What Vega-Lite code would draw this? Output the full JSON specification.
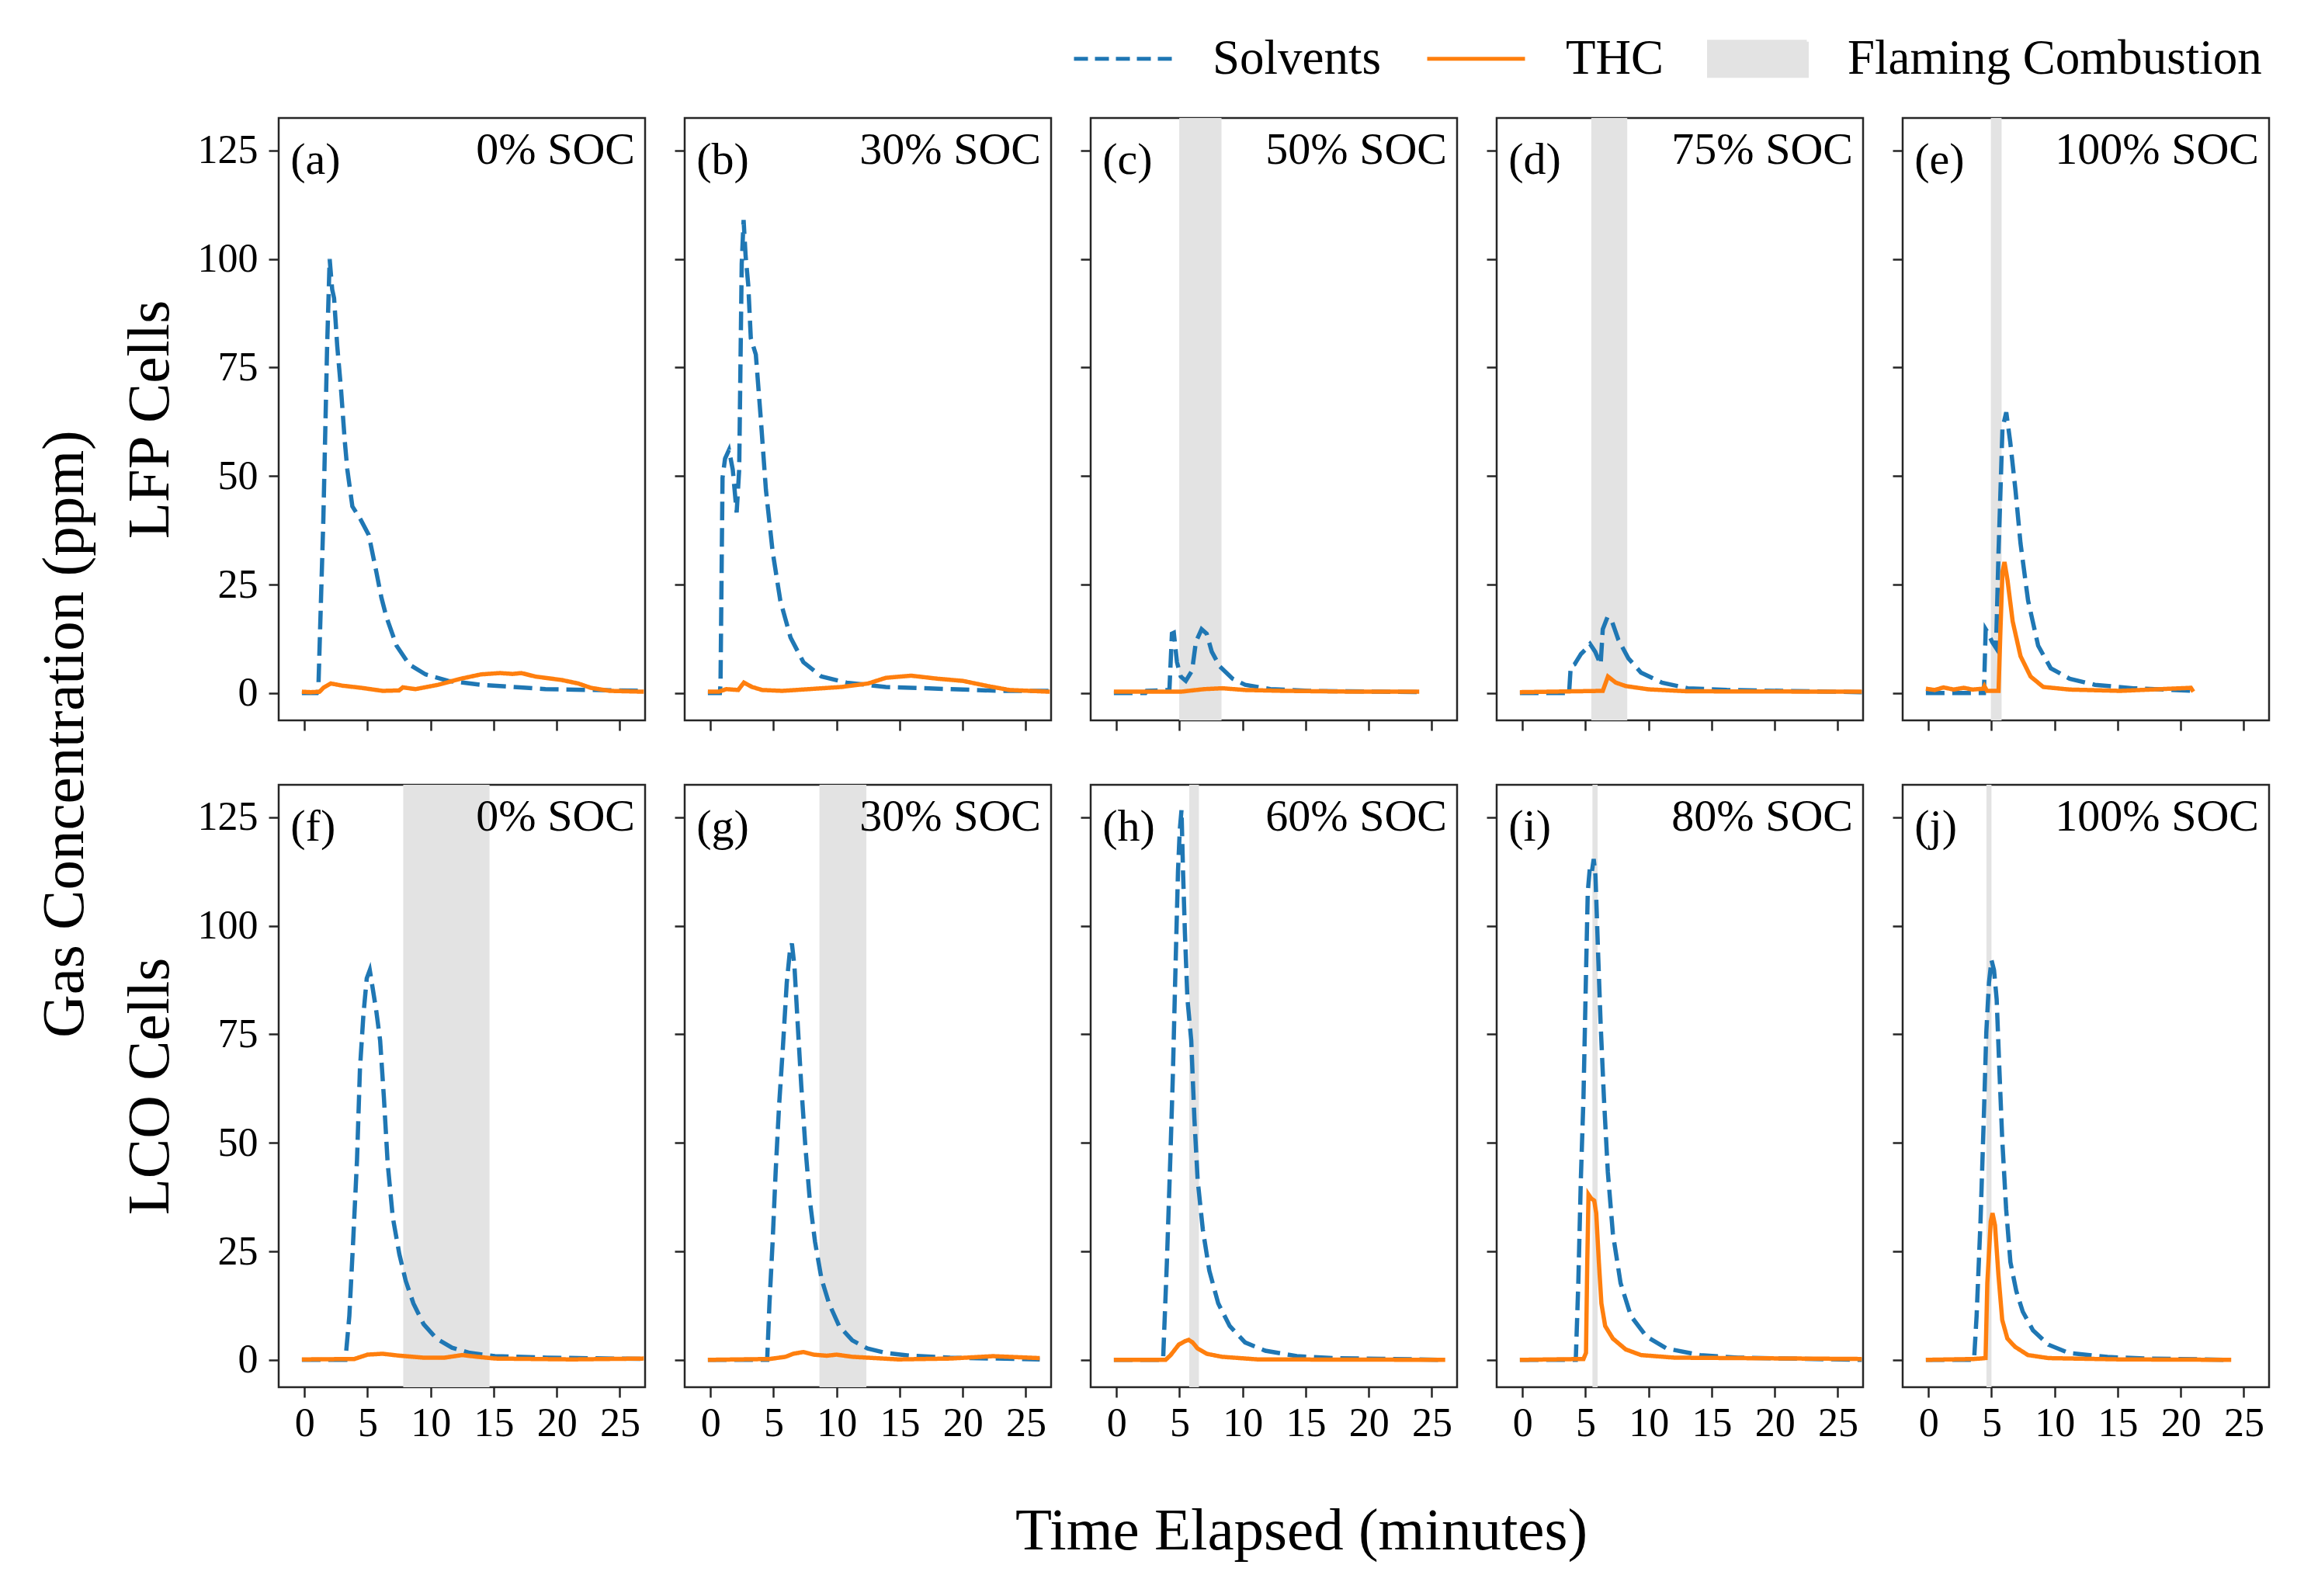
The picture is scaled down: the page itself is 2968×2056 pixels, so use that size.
{
"$schema": "https://vega.github.io/schema/vega-lite/v6.json",
"background": "white",
"padding": {"left": 44, "top": 10, "right": 20, "bottom": 20},
"title": {"text": "Gas Concentration (ppm)", "orient": "left", "anchor": "middle", "font": "Liberation Serif", "fontSize": 77, "fontWeight": "normal", "color": "black", "offset": 30, "dx": 65},
"datasets": {
"bands": [
{"p":"c","s":"Flaming Combustion","x1":4.98,"x2":8.33},
{"p":"d","s":"Flaming Combustion","x1":5.46,"x2":8.31},
{"p":"e","s":"Flaming Combustion","x1":4.95,"x2":5.8},
{"p":"f","s":"Flaming Combustion","x1":7.83,"x2":14.67},
{"p":"g","s":"Flaming Combustion","x1":8.64,"x2":12.36},
{"p":"h","s":"Flaming Combustion","x1":5.77,"x2":6.54},
{"p":"i","s":"Flaming Combustion","x1":5.55,"x2":5.96},
{"p":"j","s":"Flaming Combustion","x1":4.6,"x2":5.0}
],
"labels": [
{"p":"a","letter":"(a)","soc":"0% SOC"},
{"p":"b","letter":"(b)","soc":"30% SOC"},
{"p":"c","letter":"(c)","soc":"50% SOC"},
{"p":"d","letter":"(d)","soc":"75% SOC"},
{"p":"e","letter":"(e)","soc":"100% SOC"},
{"p":"f","letter":"(f)","soc":"0% SOC"},
{"p":"g","letter":"(g)","soc":"30% SOC"},
{"p":"h","letter":"(h)","soc":"60% SOC"},
{"p":"i","letter":"(i)","soc":"80% SOC"},
{"p":"j","letter":"(j)","soc":"100% SOC"}
],
"curves": [
{"p":"a","s":"Solvents","t":-0.2,"v":0},{"p":"a","s":"Solvents","t":1.0,"v":0},{"p":"a","s":"Solvents","t":1.1,"v":0.5},{"p":"a","s":"Solvents","t":1.5,"v":40},{"p":"a","s":"Solvents","t":1.8,"v":80},{"p":"a","s":"Solvents","t":2.0,"v":100},{"p":"a","s":"Solvents","t":2.2,"v":93},{"p":"a","s":"Solvents","t":2.35,"v":91},{"p":"a","s":"Solvents","t":2.6,"v":80},{"p":"a","s":"Solvents","t":2.9,"v":70},{"p":"a","s":"Solvents","t":3.2,"v":58},{"p":"a","s":"Solvents","t":3.4,"v":51.5},{"p":"a","s":"Solvents","t":3.8,"v":43},{"p":"a","s":"Solvents","t":4.45,"v":40},{"p":"a","s":"Solvents","t":5.1,"v":36.4},{"p":"a","s":"Solvents","t":5.7,"v":27.9},{"p":"a","s":"Solvents","t":6.1,"v":22},{"p":"a","s":"Solvents","t":6.5,"v":17.5},{"p":"a","s":"Solvents","t":7.3,"v":10.9},{"p":"a","s":"Solvents","t":8.3,"v":6.6},{"p":"a","s":"Solvents","t":9.6,"v":4.3},{"p":"a","s":"Solvents","t":11.4,"v":2.8},{"p":"a","s":"Solvents","t":14,"v":1.9},{"p":"a","s":"Solvents","t":19.1,"v":0.9},{"p":"a","s":"Solvents","t":26.9,"v":0.5},
{"p":"a","s":"THC","t":-0.2,"v":0.3},{"p":"a","s":"THC","t":0.5,"v":0.2},{"p":"a","s":"THC","t":1.2,"v":0.3},{"p":"a","s":"THC","t":1.5,"v":1.2},{"p":"a","s":"THC","t":2.1,"v":2.2},{"p":"a","s":"THC","t":3,"v":1.7},{"p":"a","s":"THC","t":4.5,"v":1.2},{"p":"a","s":"THC","t":6.2,"v":0.5},{"p":"a","s":"THC","t":7.5,"v":0.6},{"p":"a","s":"THC","t":7.8,"v":1.3},{"p":"a","s":"THC","t":8.8,"v":0.9},{"p":"a","s":"THC","t":10.6,"v":1.9},{"p":"a","s":"THC","t":12.4,"v":3.3},{"p":"a","s":"THC","t":14,"v":4.3},{"p":"a","s":"THC","t":15.5,"v":4.6},{"p":"a","s":"THC","t":16.5,"v":4.4},{"p":"a","s":"THC","t":17.2,"v":4.6},{"p":"a","s":"THC","t":18.3,"v":3.8},{"p":"a","s":"THC","t":20.4,"v":3.0},{"p":"a","s":"THC","t":21.7,"v":2.2},{"p":"a","s":"THC","t":22.7,"v":1.2},{"p":"a","s":"THC","t":24.2,"v":0.5},{"p":"a","s":"THC","t":26.9,"v":0.3},
{"p":"b","s":"Solvents","t":-0.2,"v":0},{"p":"b","s":"Solvents","t":0.75,"v":0},{"p":"b","s":"Solvents","t":0.8,"v":2},{"p":"b","s":"Solvents","t":0.96,"v":49.6},{"p":"b","s":"Solvents","t":1.16,"v":54},{"p":"b","s":"Solvents","t":1.47,"v":56},{"p":"b","s":"Solvents","t":1.77,"v":51.5},{"p":"b","s":"Solvents","t":2.08,"v":41.6},{"p":"b","s":"Solvents","t":2.28,"v":51.5},{"p":"b","s":"Solvents","t":2.48,"v":98.8},{"p":"b","s":"Solvents","t":2.63,"v":109},{"p":"b","s":"Solvents","t":2.79,"v":100.7},{"p":"b","s":"Solvents","t":3.0,"v":94},{"p":"b","s":"Solvents","t":3.2,"v":81.8},{"p":"b","s":"Solvents","t":3.6,"v":78},{"p":"b","s":"Solvents","t":4.0,"v":62.9},{"p":"b","s":"Solvents","t":4.4,"v":46.8},{"p":"b","s":"Solvents","t":4.93,"v":32.6},{"p":"b","s":"Solvents","t":5.54,"v":21.3},{"p":"b","s":"Solvents","t":6.35,"v":12.8},{"p":"b","s":"Solvents","t":7.37,"v":7.1},{"p":"b","s":"Solvents","t":8.8,"v":3.8},{"p":"b","s":"Solvents","t":10.8,"v":2.4},{"p":"b","s":"Solvents","t":13.9,"v":1.4},{"p":"b","s":"Solvents","t":19,"v":0.9},{"p":"b","s":"Solvents","t":23,"v":0.5},{"p":"b","s":"Solvents","t":26.9,"v":0.5},
{"p":"b","s":"THC","t":-0.2,"v":0.3},{"p":"b","s":"THC","t":0.65,"v":0.3},{"p":"b","s":"THC","t":1.26,"v":0.9},{"p":"b","s":"THC","t":2.2,"v":0.7},{"p":"b","s":"THC","t":2.65,"v":2.4},{"p":"b","s":"THC","t":3.3,"v":1.4},{"p":"b","s":"THC","t":4.1,"v":0.7},{"p":"b","s":"THC","t":5.7,"v":0.5},{"p":"b","s":"THC","t":7.8,"v":0.9},{"p":"b","s":"THC","t":10.4,"v":1.4},{"p":"b","s":"THC","t":12.5,"v":2.2},{"p":"b","s":"THC","t":13.9,"v":3.5},{"p":"b","s":"THC","t":15.9,"v":4.0},{"p":"b","s":"THC","t":18,"v":3.3},{"p":"b","s":"THC","t":20,"v":2.8},{"p":"b","s":"THC","t":22,"v":1.6},{"p":"b","s":"THC","t":23.7,"v":0.7},{"p":"b","s":"THC","t":26.9,"v":0.3},
{"p":"c","s":"Solvents","t":-0.2,"v":0},{"p":"c","s":"Solvents","t":2.3,"v":0},{"p":"c","s":"Solvents","t":2.4,"v":0.5},{"p":"c","s":"Solvents","t":4.2,"v":0.7},{"p":"c","s":"Solvents","t":4.4,"v":13.7},{"p":"c","s":"Solvents","t":4.55,"v":13.9},{"p":"c","s":"Solvents","t":4.8,"v":7.1},{"p":"c","s":"Solvents","t":5.1,"v":3.8},{"p":"c","s":"Solvents","t":5.5,"v":2.8},{"p":"c","s":"Solvents","t":6.0,"v":5.2},{"p":"c","s":"Solvents","t":6.3,"v":11.8},{"p":"c","s":"Solvents","t":6.75,"v":14.7},{"p":"c","s":"Solvents","t":7.15,"v":13.7},{"p":"c","s":"Solvents","t":7.56,"v":9.5},{"p":"c","s":"Solvents","t":8.2,"v":6.1},{"p":"c","s":"Solvents","t":9.2,"v":3.3},{"p":"c","s":"Solvents","t":10.2,"v":1.9},{"p":"c","s":"Solvents","t":12.2,"v":0.9},{"p":"c","s":"Solvents","t":15.3,"v":0.5},{"p":"c","s":"Solvents","t":24,"v":0.2},
{"p":"c","s":"THC","t":-0.2,"v":0.3},{"p":"c","s":"THC","t":5.1,"v":0.3},{"p":"c","s":"THC","t":6.0,"v":0.6},{"p":"c","s":"THC","t":6.95,"v":0.9},{"p":"c","s":"THC","t":8.4,"v":1.1},{"p":"c","s":"THC","t":10.2,"v":0.7},{"p":"c","s":"THC","t":13.3,"v":0.5},{"p":"c","s":"THC","t":19.3,"v":0.3},{"p":"c","s":"THC","t":24,"v":0.3},
{"p":"d","s":"Solvents","t":-0.2,"v":0},{"p":"d","s":"Solvents","t":3.7,"v":0},{"p":"d","s":"Solvents","t":3.83,"v":6.1},{"p":"d","s":"Solvents","t":4.13,"v":6.6},{"p":"d","s":"Solvents","t":4.64,"v":9},{"p":"d","s":"Solvents","t":4.95,"v":9.9},{"p":"d","s":"Solvents","t":5.36,"v":11.3},{"p":"d","s":"Solvents","t":5.77,"v":9.5},{"p":"d","s":"Solvents","t":6.2,"v":6.6},{"p":"d","s":"Solvents","t":6.37,"v":14.7},{"p":"d","s":"Solvents","t":6.74,"v":17.5},{"p":"d","s":"Solvents","t":7.1,"v":16.5},{"p":"d","s":"Solvents","t":7.6,"v":12.3},{"p":"d","s":"Solvents","t":8.4,"v":8},{"p":"d","s":"Solvents","t":9.4,"v":4.7},{"p":"d","s":"Solvents","t":11.06,"v":2.4},{"p":"d","s":"Solvents","t":13.1,"v":1.1},{"p":"d","s":"Solvents","t":16.2,"v":0.7},{"p":"d","s":"Solvents","t":26.9,"v":0.2},
{"p":"d","s":"THC","t":-0.2,"v":0.2},{"p":"d","s":"THC","t":6.37,"v":0.5},{"p":"d","s":"THC","t":6.78,"v":3.8},{"p":"d","s":"THC","t":7.4,"v":2.4},{"p":"d","s":"THC","t":8.2,"v":1.6},{"p":"d","s":"THC","t":10,"v":0.85},{"p":"d","s":"THC","t":13.1,"v":0.4},{"p":"d","s":"THC","t":26.9,"v":0.3},
{"p":"e","s":"Solvents","t":-0.2,"v":0},{"p":"e","s":"Solvents","t":4.4,"v":0},{"p":"e","s":"Solvents","t":4.54,"v":14.7},{"p":"e","s":"Solvents","t":4.75,"v":13.7},{"p":"e","s":"Solvents","t":5.05,"v":11.8},{"p":"e","s":"Solvents","t":5.36,"v":10.4},{"p":"e","s":"Solvents","t":5.56,"v":32.6},{"p":"e","s":"Solvents","t":5.87,"v":61},{"p":"e","s":"Solvents","t":6.17,"v":64.7},{"p":"e","s":"Solvents","t":6.48,"v":58},{"p":"e","s":"Solvents","t":6.9,"v":46.8},{"p":"e","s":"Solvents","t":7.3,"v":34.5},{"p":"e","s":"Solvents","t":7.9,"v":21.3},{"p":"e","s":"Solvents","t":8.7,"v":10.9},{"p":"e","s":"Solvents","t":9.7,"v":5.7},{"p":"e","s":"Solvents","t":11.2,"v":3.3},{"p":"e","s":"Solvents","t":13.2,"v":1.9},{"p":"e","s":"Solvents","t":16.25,"v":1.1},{"p":"e","s":"Solvents","t":21.0,"v":0.5},
{"p":"e","s":"THC","t":-0.2,"v":1.0},{"p":"e","s":"THC","t":0.5,"v":0.7},{"p":"e","s":"THC","t":1.2,"v":1.3},{"p":"e","s":"THC","t":2.0,"v":0.8},{"p":"e","s":"THC","t":2.8,"v":1.2},{"p":"e","s":"THC","t":3.5,"v":0.8},{"p":"e","s":"THC","t":4.34,"v":1.0},{"p":"e","s":"THC","t":4.44,"v":1.6},{"p":"e","s":"THC","t":4.64,"v":0.5},{"p":"e","s":"THC","t":5.56,"v":0.5},{"p":"e","s":"THC","t":5.7,"v":13.7},{"p":"e","s":"THC","t":5.87,"v":27.9},{"p":"e","s":"THC","t":6.03,"v":30.2},{"p":"e","s":"THC","t":6.27,"v":26},{"p":"e","s":"THC","t":6.68,"v":16.5},{"p":"e","s":"THC","t":7.3,"v":8.5},{"p":"e","s":"THC","t":8.1,"v":3.8},{"p":"e","s":"THC","t":9.1,"v":1.4},{"p":"e","s":"THC","t":11.2,"v":0.8},{"p":"e","s":"THC","t":15.2,"v":0.5},{"p":"e","s":"THC","t":20.8,"v":1.2},{"p":"e","s":"THC","t":21.0,"v":0.3},
{"p":"f","s":"Solvents","t":-0.2,"v":0},{"p":"f","s":"Solvents","t":3.25,"v":0},{"p":"f","s":"Solvents","t":3.56,"v":10.1},{"p":"f","s":"Solvents","t":3.86,"v":27.2},{"p":"f","s":"Solvents","t":4.17,"v":46.2},{"p":"f","s":"Solvents","t":4.4,"v":67},{"p":"f","s":"Solvents","t":4.67,"v":79.3},{"p":"f","s":"Solvents","t":4.94,"v":87.9},{"p":"f","s":"Solvents","t":5.18,"v":89.8},{"p":"f","s":"Solvents","t":5.39,"v":86},{"p":"f","s":"Solvents","t":5.7,"v":80.3},{"p":"f","s":"Solvents","t":6.0,"v":73.6},{"p":"f","s":"Solvents","t":6.3,"v":60.4},{"p":"f","s":"Solvents","t":6.6,"v":45.2},{"p":"f","s":"Solvents","t":7.0,"v":32.9},{"p":"f","s":"Solvents","t":7.52,"v":24.4},{"p":"f","s":"Solvents","t":8.03,"v":18.2},{"p":"f","s":"Solvents","t":8.64,"v":13},{"p":"f","s":"Solvents","t":9.45,"v":8.2},{"p":"f","s":"Solvents","t":10.47,"v":4.9},{"p":"f","s":"Solvents","t":11.7,"v":2.8},{"p":"f","s":"Solvents","t":13.1,"v":1.6},{"p":"f","s":"Solvents","t":15.1,"v":0.85},{"p":"f","s":"Solvents","t":19.2,"v":0.5},{"p":"f","s":"Solvents","t":26.9,"v":0.2},
{"p":"f","s":"THC","t":-0.2,"v":0.1},{"p":"f","s":"THC","t":3.96,"v":0.2},{"p":"f","s":"THC","t":5.0,"v":1.2},{"p":"f","s":"THC","t":6.2,"v":1.4},{"p":"f","s":"THC","t":7.4,"v":1.0},{"p":"f","s":"THC","t":9.45,"v":0.5},{"p":"f","s":"THC","t":11.1,"v":0.5},{"p":"f","s":"THC","t":12.5,"v":1.1},{"p":"f","s":"THC","t":13.7,"v":0.7},{"p":"f","s":"THC","t":15.1,"v":0.3},{"p":"f","s":"THC","t":21.2,"v":0.1},{"p":"f","s":"THC","t":26.9,"v":0.3},
{"p":"g","s":"Solvents","t":-0.2,"v":0},{"p":"g","s":"Solvents","t":4.5,"v":0},{"p":"g","s":"Solvents","t":4.52,"v":1.6},{"p":"g","s":"Solvents","t":4.68,"v":13},{"p":"g","s":"Solvents","t":4.93,"v":27.2},{"p":"g","s":"Solvents","t":5.17,"v":43.3},{"p":"g","s":"Solvents","t":5.44,"v":58.5},{"p":"g","s":"Solvents","t":5.74,"v":71.8},{"p":"g","s":"Solvents","t":6.05,"v":86.9},{"p":"g","s":"Solvents","t":6.31,"v":94.5},{"p":"g","s":"Solvents","t":6.46,"v":95.9},{"p":"g","s":"Solvents","t":6.66,"v":90.7},{"p":"g","s":"Solvents","t":6.92,"v":77.3},{"p":"g","s":"Solvents","t":7.2,"v":63.2},{"p":"g","s":"Solvents","t":7.53,"v":49},{"p":"g","s":"Solvents","t":7.88,"v":36.7},{"p":"g","s":"Solvents","t":8.29,"v":27.2},{"p":"g","s":"Solvents","t":8.8,"v":18.7},{"p":"g","s":"Solvents","t":9.4,"v":13},{"p":"g","s":"Solvents","t":10.2,"v":7.8},{"p":"g","s":"Solvents","t":11.24,"v":4.5},{"p":"g","s":"Solvents","t":12.46,"v":2.6},{"p":"g","s":"Solvents","t":13.9,"v":1.6},{"p":"g","s":"Solvents","t":15.9,"v":0.95},{"p":"g","s":"Solvents","t":19,"v":0.5},{"p":"g","s":"Solvents","t":26.1,"v":0.1},
{"p":"g","s":"THC","t":-0.2,"v":0},{"p":"g","s":"THC","t":4.7,"v":0.2},{"p":"g","s":"THC","t":5.95,"v":0.7},{"p":"g","s":"THC","t":6.56,"v":1.4},{"p":"g","s":"THC","t":7.37,"v":1.8},{"p":"g","s":"THC","t":8.2,"v":1.2},{"p":"g","s":"THC","t":9.2,"v":0.95},{"p":"g","s":"THC","t":10.0,"v":1.2},{"p":"g","s":"THC","t":11.24,"v":0.7},{"p":"g","s":"THC","t":14.9,"v":0.1},{"p":"g","s":"THC","t":19,"v":0.3},{"p":"g","s":"THC","t":22.4,"v":0.85},{"p":"g","s":"THC","t":26.1,"v":0.4},
{"p":"h","s":"Solvents","t":-0.2,"v":0},{"p":"h","s":"Solvents","t":3.7,"v":0},{"p":"h","s":"Solvents","t":4.0,"v":22.5},{"p":"h","s":"Solvents","t":4.27,"v":46.2},{"p":"h","s":"Solvents","t":4.47,"v":65.1},{"p":"h","s":"Solvents","t":4.67,"v":88.8},{"p":"h","s":"Solvents","t":4.88,"v":112.5},{"p":"h","s":"Solvents","t":5.02,"v":122},{"p":"h","s":"Solvents","t":5.16,"v":126.7},{"p":"h","s":"Solvents","t":5.28,"v":112.5},{"p":"h","s":"Solvents","t":5.43,"v":98.3},{"p":"h","s":"Solvents","t":5.63,"v":83.1},{"p":"h","s":"Solvents","t":5.93,"v":73.6},{"p":"h","s":"Solvents","t":6.18,"v":55.6},{"p":"h","s":"Solvents","t":6.44,"v":41.4},{"p":"h","s":"Solvents","t":6.85,"v":30},{"p":"h","s":"Solvents","t":7.36,"v":20.6},{"p":"h","s":"Solvents","t":8.07,"v":13},{"p":"h","s":"Solvents","t":8.98,"v":7.8},{"p":"h","s":"Solvents","t":10.2,"v":4},{"p":"h","s":"Solvents","t":11.8,"v":2.1},{"p":"h","s":"Solvents","t":14.3,"v":0.85},{"p":"h","s":"Solvents","t":17.3,"v":0.4},{"p":"h","s":"Solvents","t":26.06,"v":0},
{"p":"h","s":"THC","t":-0.2,"v":0},{"p":"h","s":"THC","t":3.9,"v":0},{"p":"h","s":"THC","t":4.3,"v":1.1},{"p":"h","s":"THC","t":4.94,"v":3.5},{"p":"h","s":"THC","t":5.43,"v":4.3},{"p":"h","s":"THC","t":5.73,"v":4.6},{"p":"h","s":"THC","t":6.04,"v":4.0},{"p":"h","s":"THC","t":6.44,"v":2.6},{"p":"h","s":"THC","t":7.15,"v":1.4},{"p":"h","s":"THC","t":8.37,"v":0.7},{"p":"h","s":"THC","t":11.2,"v":0.1},{"p":"h","s":"THC","t":26.06,"v":0},
{"p":"i","s":"Solvents","t":-0.2,"v":0},{"p":"i","s":"Solvents","t":4.23,"v":0},{"p":"i","s":"Solvents","t":4.43,"v":17.7},{"p":"i","s":"Solvents","t":4.63,"v":41.4},{"p":"i","s":"Solvents","t":4.84,"v":60.4},{"p":"i","s":"Solvents","t":5.04,"v":88.8},{"p":"i","s":"Solvents","t":5.18,"v":107.8},{"p":"i","s":"Solvents","t":5.35,"v":113.5},{"p":"i","s":"Solvents","t":5.51,"v":112.5},{"p":"i","s":"Solvents","t":5.65,"v":115.4},{"p":"i","s":"Solvents","t":5.79,"v":111.6},{"p":"i","s":"Solvents","t":6.0,"v":93.6},{"p":"i","s":"Solvents","t":6.2,"v":77.4},{"p":"i","s":"Solvents","t":6.46,"v":60.4},{"p":"i","s":"Solvents","t":6.77,"v":43.3},{"p":"i","s":"Solvents","t":7.17,"v":29.1},{"p":"i","s":"Solvents","t":7.78,"v":17.7},{"p":"i","s":"Solvents","t":8.6,"v":10.1},{"p":"i","s":"Solvents","t":9.82,"v":5.4},{"p":"i","s":"Solvents","t":11.44,"v":2.6},{"p":"i","s":"Solvents","t":14.1,"v":1.1},{"p":"i","s":"Solvents","t":17.1,"v":0.5},{"p":"i","s":"Solvents","t":26.9,"v":0},
{"p":"i","s":"THC","t":-0.2,"v":0},{"p":"i","s":"THC","t":4.84,"v":0.2},{"p":"i","s":"THC","t":5.04,"v":1.6},{"p":"i","s":"THC","t":5.14,"v":22.5},{"p":"i","s":"THC","t":5.24,"v":38.1},{"p":"i","s":"THC","t":5.45,"v":37.2},{"p":"i","s":"THC","t":5.69,"v":36.7},{"p":"i","s":"THC","t":5.85,"v":33.8},{"p":"i","s":"THC","t":6.06,"v":22.5},{"p":"i","s":"THC","t":6.26,"v":13},{"p":"i","s":"THC","t":6.56,"v":7.8},{"p":"i","s":"THC","t":7.17,"v":4.9},{"p":"i","s":"THC","t":8.19,"v":2.4},{"p":"i","s":"THC","t":9.4,"v":1.1},{"p":"i","s":"THC","t":12.05,"v":0.5},{"p":"i","s":"THC","t":26.9,"v":0.2},
{"p":"j","s":"Solvents","t":-0.2,"v":0},{"p":"j","s":"Solvents","t":3.62,"v":0},{"p":"j","s":"Solvents","t":3.82,"v":10.1},{"p":"j","s":"Solvents","t":4.13,"v":31.9},{"p":"j","s":"Solvents","t":4.39,"v":55.6},{"p":"j","s":"Solvents","t":4.59,"v":75.5},{"p":"j","s":"Solvents","t":4.8,"v":86.9},{"p":"j","s":"Solvents","t":5.0,"v":92.1},{"p":"j","s":"Solvents","t":5.2,"v":89.8},{"p":"j","s":"Solvents","t":5.41,"v":83.1},{"p":"j","s":"Solvents","t":5.61,"v":68},{"p":"j","s":"Solvents","t":5.85,"v":50.9},{"p":"j","s":"Solvents","t":6.16,"v":34.8},{"p":"j","s":"Solvents","t":6.5,"v":22.5},{"p":"j","s":"Solvents","t":6.97,"v":15.8},{"p":"j","s":"Solvents","t":7.48,"v":11.1},{"p":"j","s":"Solvents","t":8.29,"v":6.8},{"p":"j","s":"Solvents","t":9.51,"v":3.5},{"p":"j","s":"Solvents","t":11.1,"v":1.6},{"p":"j","s":"Solvents","t":14.2,"v":0.66},{"p":"j","s":"Solvents","t":17.2,"v":0.3},{"p":"j","s":"Solvents","t":24.0,"v":0},
{"p":"j","s":"THC","t":-0.2,"v":0},{"p":"j","s":"THC","t":3.62,"v":0.2},{"p":"j","s":"THC","t":4.53,"v":0.4},{"p":"j","s":"THC","t":4.67,"v":17.7},{"p":"j","s":"THC","t":4.94,"v":31.9},{"p":"j","s":"THC","t":5.08,"v":33.8},{"p":"j","s":"THC","t":5.28,"v":31},{"p":"j","s":"THC","t":5.55,"v":19.6},{"p":"j","s":"THC","t":5.85,"v":9.2},{"p":"j","s":"THC","t":6.26,"v":4.9},{"p":"j","s":"THC","t":6.87,"v":3},{"p":"j","s":"THC","t":7.89,"v":1.1},{"p":"j","s":"THC","t":9.51,"v":0.4},{"p":"j","s":"THC","t":15.2,"v":0.1},{"p":"j","s":"THC","t":24.0,"v":0}
]
},
"spacing": 65,
"vconcat": [
{"bounds": "flush", "spacing": 51, "hconcat": [
{"width": 472, "height": 776, "layer": [
 {"data": {"name": "bands"}, "transform": [{"filter": "datum.p === 'a'"}], "mark": {"type": "rect"}, "encoding": {"x": {"field": "x1", "type": "quantitative", "scale": {"domain": [-2.04, 27.0], "nice": false, "zero": false}, "axis": {"values": [0,5,10,15,20,25], "labels": false, "title": null}}, "x2": {"field": "x2"}, "color": {"field": "s", "type": "nominal", "scale": {"domain": ["Solvents", "THC", "Flaming Combustion"], "range": ["#1f77b4", "#ff7f0e", "#e3e3e3"]}}}},
 {"data": {"name": "curves"}, "transform": [{"filter": "datum.p === 'a'"}], "mark": {"type": "line", "strokeWidth": 5.5}, "encoding": {
   "x": {"field": "t", "type": "quantitative", "scale": {"domain": [-2.04, 27.0], "nice": false, "zero": false}, "axis": {"values": [0,5,10,15,20,25], "labels": false, "title": null}},
   "y": {"field": "v", "type": "quantitative", "scale": {"domain": [-6.3, 132.5], "nice": false, "zero": false}, "axis": {"values": [0,25,50,75,100,125], "title": "LFP Cells"}},
   "color": {"field": "s", "type": "nominal", "scale": {"domain": ["Solvents", "THC", "Flaming Combustion"], "range": ["#1f77b4", "#ff7f0e", "#e3e3e3"]}, "legend": {"title": null, "encode": {"symbols": {"update": {
     "shape": {"signal": "datum.label === 'Flaming Combustion' ? 'M-1,-0.35L1,-0.35L1,0.35L-1,0.35Z' : 'stroke'"},
     "strokeDash": {"signal": "datum.label === 'Solvents' ? [18,9] : [1,0]"},
     "fill": {"signal": "datum.label === 'Flaming Combustion' ? '#e3e3e3' : 'transparent'"},
     "stroke": {"signal": "datum.label === 'Flaming Combustion' ? 'transparent' : (datum.label === 'Solvents' ? '#1f77b4' : '#ff7f0e')"},
     "strokeWidth": {"value": 5},
     "opacity": {"value": 1}}}}}},
   "strokeDash": {"field": "s", "type": "nominal", "scale": {"domain": ["Solvents", "THC"], "range": [[24, 10], [1, 0]]}, "legend": null}}},
 {"data": {"name": "labels"}, "transform": [{"filter": "datum.p === 'a'"}], "mark": {"type": "text", "align": "left", "baseline": "alphabetic", "font": "Liberation Serif", "fontSize": 58, "color": "black"}, "encoding": {"x": {"datum": -1.1, "type": "quantitative", "axis": {"values": [0,5,10,15,20,25], "labels": false, "title": null}}, "y": {"datum": 119.6, "type": "quantitative", "axis": {"values": [0,25,50,75,100,125], "title": "LFP Cells"}}, "text": {"field": "letter"}}},
 {"data": {"name": "labels"}, "transform": [{"filter": "datum.p === 'a'"}], "mark": {"type": "text", "align": "right", "baseline": "alphabetic", "font": "Liberation Serif", "fontSize": 58, "color": "black"}, "encoding": {"x": {"datum": 26.2, "type": "quantitative", "axis": {"values": [0,5,10,15,20,25], "labels": false, "title": null}}, "y": {"datum": 122, "type": "quantitative", "axis": {"values": [0,25,50,75,100,125], "title": "LFP Cells"}}, "text": {"field": "soc"}}}
]},
{"width": 472, "height": 776, "layer": [
 {"data": {"name": "bands"}, "transform": [{"filter": "datum.p === 'b'"}], "mark": {"type": "rect"}, "encoding": {"x": {"field": "x1", "type": "quantitative", "scale": {"domain": [-2.04, 27.0], "nice": false, "zero": false}, "axis": {"values": [0,5,10,15,20,25], "labels": false, "title": null}}, "x2": {"field": "x2"}, "color": {"field": "s", "type": "nominal", "scale": {"domain": ["Solvents", "THC", "Flaming Combustion"], "range": ["#1f77b4", "#ff7f0e", "#e3e3e3"]}}}},
 {"data": {"name": "curves"}, "transform": [{"filter": "datum.p === 'b'"}], "mark": {"type": "line", "strokeWidth": 5.5}, "encoding": {
   "x": {"field": "t", "type": "quantitative", "scale": {"domain": [-2.04, 27.0], "nice": false, "zero": false}, "axis": {"values": [0,5,10,15,20,25], "labels": false, "title": null}},
   "y": {"field": "v", "type": "quantitative", "scale": {"domain": [-6.3, 132.5], "nice": false, "zero": false}, "axis": {"values": [0,25,50,75,100,125], "labels": false, "title": null}},
   "color": {"field": "s", "type": "nominal", "scale": {"domain": ["Solvents", "THC", "Flaming Combustion"], "range": ["#1f77b4", "#ff7f0e", "#e3e3e3"]}},
   "strokeDash": {"field": "s", "type": "nominal", "scale": {"domain": ["Solvents", "THC"], "range": [[24, 10], [1, 0]]}, "legend": null}}},
 {"data": {"name": "labels"}, "transform": [{"filter": "datum.p === 'b'"}], "mark": {"type": "text", "align": "left", "baseline": "alphabetic", "font": "Liberation Serif", "fontSize": 58, "color": "black"}, "encoding": {"x": {"datum": -1.1, "type": "quantitative", "axis": {"values": [0,5,10,15,20,25], "labels": false, "title": null}}, "y": {"datum": 119.6, "type": "quantitative", "axis": {"values": [0,25,50,75,100,125], "labels": false, "title": null}}, "text": {"field": "letter"}}},
 {"data": {"name": "labels"}, "transform": [{"filter": "datum.p === 'b'"}], "mark": {"type": "text", "align": "right", "baseline": "alphabetic", "font": "Liberation Serif", "fontSize": 58, "color": "black"}, "encoding": {"x": {"datum": 26.2, "type": "quantitative", "axis": {"values": [0,5,10,15,20,25], "labels": false, "title": null}}, "y": {"datum": 122, "type": "quantitative", "axis": {"values": [0,25,50,75,100,125], "labels": false, "title": null}}, "text": {"field": "soc"}}}
]},
{"width": 472, "height": 776, "layer": [
 {"data": {"name": "bands"}, "transform": [{"filter": "datum.p === 'c'"}], "mark": {"type": "rect"}, "encoding": {"x": {"field": "x1", "type": "quantitative", "scale": {"domain": [-2.04, 27.0], "nice": false, "zero": false}, "axis": {"values": [0,5,10,15,20,25], "labels": false, "title": null}}, "x2": {"field": "x2"}, "color": {"field": "s", "type": "nominal", "scale": {"domain": ["Solvents", "THC", "Flaming Combustion"], "range": ["#1f77b4", "#ff7f0e", "#e3e3e3"]}}}},
 {"data": {"name": "curves"}, "transform": [{"filter": "datum.p === 'c'"}], "mark": {"type": "line", "strokeWidth": 5.5}, "encoding": {
   "x": {"field": "t", "type": "quantitative", "scale": {"domain": [-2.04, 27.0], "nice": false, "zero": false}, "axis": {"values": [0,5,10,15,20,25], "labels": false, "title": null}},
   "y": {"field": "v", "type": "quantitative", "scale": {"domain": [-6.3, 132.5], "nice": false, "zero": false}, "axis": {"values": [0,25,50,75,100,125], "labels": false, "title": null}},
   "color": {"field": "s", "type": "nominal", "scale": {"domain": ["Solvents", "THC", "Flaming Combustion"], "range": ["#1f77b4", "#ff7f0e", "#e3e3e3"]}},
   "strokeDash": {"field": "s", "type": "nominal", "scale": {"domain": ["Solvents", "THC"], "range": [[24, 10], [1, 0]]}, "legend": null}}},
 {"data": {"name": "labels"}, "transform": [{"filter": "datum.p === 'c'"}], "mark": {"type": "text", "align": "left", "baseline": "alphabetic", "font": "Liberation Serif", "fontSize": 58, "color": "black"}, "encoding": {"x": {"datum": -1.1, "type": "quantitative", "axis": {"values": [0,5,10,15,20,25], "labels": false, "title": null}}, "y": {"datum": 119.6, "type": "quantitative", "axis": {"values": [0,25,50,75,100,125], "labels": false, "title": null}}, "text": {"field": "letter"}}},
 {"data": {"name": "labels"}, "transform": [{"filter": "datum.p === 'c'"}], "mark": {"type": "text", "align": "right", "baseline": "alphabetic", "font": "Liberation Serif", "fontSize": 58, "color": "black"}, "encoding": {"x": {"datum": 26.2, "type": "quantitative", "axis": {"values": [0,5,10,15,20,25], "labels": false, "title": null}}, "y": {"datum": 122, "type": "quantitative", "axis": {"values": [0,25,50,75,100,125], "labels": false, "title": null}}, "text": {"field": "soc"}}}
]},
{"width": 472, "height": 776, "layer": [
 {"data": {"name": "bands"}, "transform": [{"filter": "datum.p === 'd'"}], "mark": {"type": "rect"}, "encoding": {"x": {"field": "x1", "type": "quantitative", "scale": {"domain": [-2.04, 27.0], "nice": false, "zero": false}, "axis": {"values": [0,5,10,15,20,25], "labels": false, "title": null}}, "x2": {"field": "x2"}, "color": {"field": "s", "type": "nominal", "scale": {"domain": ["Solvents", "THC", "Flaming Combustion"], "range": ["#1f77b4", "#ff7f0e", "#e3e3e3"]}}}},
 {"data": {"name": "curves"}, "transform": [{"filter": "datum.p === 'd'"}], "mark": {"type": "line", "strokeWidth": 5.5}, "encoding": {
   "x": {"field": "t", "type": "quantitative", "scale": {"domain": [-2.04, 27.0], "nice": false, "zero": false}, "axis": {"values": [0,5,10,15,20,25], "labels": false, "title": null}},
   "y": {"field": "v", "type": "quantitative", "scale": {"domain": [-6.3, 132.5], "nice": false, "zero": false}, "axis": {"values": [0,25,50,75,100,125], "labels": false, "title": null}},
   "color": {"field": "s", "type": "nominal", "scale": {"domain": ["Solvents", "THC", "Flaming Combustion"], "range": ["#1f77b4", "#ff7f0e", "#e3e3e3"]}},
   "strokeDash": {"field": "s", "type": "nominal", "scale": {"domain": ["Solvents", "THC"], "range": [[24, 10], [1, 0]]}, "legend": null}}},
 {"data": {"name": "labels"}, "transform": [{"filter": "datum.p === 'd'"}], "mark": {"type": "text", "align": "left", "baseline": "alphabetic", "font": "Liberation Serif", "fontSize": 58, "color": "black"}, "encoding": {"x": {"datum": -1.1, "type": "quantitative", "axis": {"values": [0,5,10,15,20,25], "labels": false, "title": null}}, "y": {"datum": 119.6, "type": "quantitative", "axis": {"values": [0,25,50,75,100,125], "labels": false, "title": null}}, "text": {"field": "letter"}}},
 {"data": {"name": "labels"}, "transform": [{"filter": "datum.p === 'd'"}], "mark": {"type": "text", "align": "right", "baseline": "alphabetic", "font": "Liberation Serif", "fontSize": 58, "color": "black"}, "encoding": {"x": {"datum": 26.2, "type": "quantitative", "axis": {"values": [0,5,10,15,20,25], "labels": false, "title": null}}, "y": {"datum": 122, "type": "quantitative", "axis": {"values": [0,25,50,75,100,125], "labels": false, "title": null}}, "text": {"field": "soc"}}}
]},
{"width": 472, "height": 776, "layer": [
 {"data": {"name": "bands"}, "transform": [{"filter": "datum.p === 'e'"}], "mark": {"type": "rect"}, "encoding": {"x": {"field": "x1", "type": "quantitative", "scale": {"domain": [-2.04, 27.0], "nice": false, "zero": false}, "axis": {"values": [0,5,10,15,20,25], "labels": false, "title": null}}, "x2": {"field": "x2"}, "color": {"field": "s", "type": "nominal", "scale": {"domain": ["Solvents", "THC", "Flaming Combustion"], "range": ["#1f77b4", "#ff7f0e", "#e3e3e3"]}}}},
 {"data": {"name": "curves"}, "transform": [{"filter": "datum.p === 'e'"}], "mark": {"type": "line", "strokeWidth": 5.5}, "encoding": {
   "x": {"field": "t", "type": "quantitative", "scale": {"domain": [-2.04, 27.0], "nice": false, "zero": false}, "axis": {"values": [0,5,10,15,20,25], "labels": false, "title": null}},
   "y": {"field": "v", "type": "quantitative", "scale": {"domain": [-6.3, 132.5], "nice": false, "zero": false}, "axis": {"values": [0,25,50,75,100,125], "labels": false, "title": null}},
   "color": {"field": "s", "type": "nominal", "scale": {"domain": ["Solvents", "THC", "Flaming Combustion"], "range": ["#1f77b4", "#ff7f0e", "#e3e3e3"]}},
   "strokeDash": {"field": "s", "type": "nominal", "scale": {"domain": ["Solvents", "THC"], "range": [[24, 10], [1, 0]]}, "legend": null}}},
 {"data": {"name": "labels"}, "transform": [{"filter": "datum.p === 'e'"}], "mark": {"type": "text", "align": "left", "baseline": "alphabetic", "font": "Liberation Serif", "fontSize": 58, "color": "black"}, "encoding": {"x": {"datum": -1.1, "type": "quantitative", "axis": {"values": [0,5,10,15,20,25], "labels": false, "title": null}}, "y": {"datum": 119.6, "type": "quantitative", "axis": {"values": [0,25,50,75,100,125], "labels": false, "title": null}}, "text": {"field": "letter"}}},
 {"data": {"name": "labels"}, "transform": [{"filter": "datum.p === 'e'"}], "mark": {"type": "text", "align": "right", "baseline": "alphabetic", "font": "Liberation Serif", "fontSize": 58, "color": "black"}, "encoding": {"x": {"datum": 26.2, "type": "quantitative", "axis": {"values": [0,5,10,15,20,25], "labels": false, "title": null}}, "y": {"datum": 122, "type": "quantitative", "axis": {"values": [0,25,50,75,100,125], "labels": false, "title": null}}, "text": {"field": "soc"}}}
]}
]},
{"bounds": "flush", "spacing": 51, "hconcat": [
{"width": 472, "height": 776, "layer": [
 {"data": {"name": "bands"}, "transform": [{"filter": "datum.p === 'f'"}], "mark": {"type": "rect"}, "encoding": {"x": {"field": "x1", "type": "quantitative", "scale": {"domain": [-2.04, 27.0], "nice": false, "zero": false}, "axis": {"values": [0,5,10,15,20,25], "title": null}}, "x2": {"field": "x2"}, "color": {"field": "s", "type": "nominal", "scale": {"domain": ["Solvents", "THC", "Flaming Combustion"], "range": ["#1f77b4", "#ff7f0e", "#e3e3e3"]}}}},
 {"data": {"name": "curves"}, "transform": [{"filter": "datum.p === 'f'"}], "mark": {"type": "line", "strokeWidth": 5.5}, "encoding": {
   "x": {"field": "t", "type": "quantitative", "scale": {"domain": [-2.04, 27.0], "nice": false, "zero": false}, "axis": {"values": [0,5,10,15,20,25], "title": null}},
   "y": {"field": "v", "type": "quantitative", "scale": {"domain": [-6.3, 132.5], "nice": false, "zero": false}, "axis": {"values": [0,25,50,75,100,125], "title": "LCO Cells"}},
   "color": {"field": "s", "type": "nominal", "scale": {"domain": ["Solvents", "THC", "Flaming Combustion"], "range": ["#1f77b4", "#ff7f0e", "#e3e3e3"]}},
   "strokeDash": {"field": "s", "type": "nominal", "scale": {"domain": ["Solvents", "THC"], "range": [[24, 10], [1, 0]]}, "legend": null}}},
 {"data": {"name": "labels"}, "transform": [{"filter": "datum.p === 'f'"}], "mark": {"type": "text", "align": "left", "baseline": "alphabetic", "font": "Liberation Serif", "fontSize": 58, "color": "black"}, "encoding": {"x": {"datum": -1.1, "type": "quantitative", "axis": {"values": [0,5,10,15,20,25], "title": null}}, "y": {"datum": 119.6, "type": "quantitative", "axis": {"values": [0,25,50,75,100,125], "title": "LCO Cells"}}, "text": {"field": "letter"}}},
 {"data": {"name": "labels"}, "transform": [{"filter": "datum.p === 'f'"}], "mark": {"type": "text", "align": "right", "baseline": "alphabetic", "font": "Liberation Serif", "fontSize": 58, "color": "black"}, "encoding": {"x": {"datum": 26.2, "type": "quantitative", "axis": {"values": [0,5,10,15,20,25], "title": null}}, "y": {"datum": 122, "type": "quantitative", "axis": {"values": [0,25,50,75,100,125], "title": "LCO Cells"}}, "text": {"field": "soc"}}}
]},
{"width": 472, "height": 776, "layer": [
 {"data": {"name": "bands"}, "transform": [{"filter": "datum.p === 'g'"}], "mark": {"type": "rect"}, "encoding": {"x": {"field": "x1", "type": "quantitative", "scale": {"domain": [-2.04, 27.0], "nice": false, "zero": false}, "axis": {"values": [0,5,10,15,20,25], "title": null}}, "x2": {"field": "x2"}, "color": {"field": "s", "type": "nominal", "scale": {"domain": ["Solvents", "THC", "Flaming Combustion"], "range": ["#1f77b4", "#ff7f0e", "#e3e3e3"]}}}},
 {"data": {"name": "curves"}, "transform": [{"filter": "datum.p === 'g'"}], "mark": {"type": "line", "strokeWidth": 5.5}, "encoding": {
   "x": {"field": "t", "type": "quantitative", "scale": {"domain": [-2.04, 27.0], "nice": false, "zero": false}, "axis": {"values": [0,5,10,15,20,25], "title": null}},
   "y": {"field": "v", "type": "quantitative", "scale": {"domain": [-6.3, 132.5], "nice": false, "zero": false}, "axis": {"values": [0,25,50,75,100,125], "labels": false, "title": null}},
   "color": {"field": "s", "type": "nominal", "scale": {"domain": ["Solvents", "THC", "Flaming Combustion"], "range": ["#1f77b4", "#ff7f0e", "#e3e3e3"]}},
   "strokeDash": {"field": "s", "type": "nominal", "scale": {"domain": ["Solvents", "THC"], "range": [[24, 10], [1, 0]]}, "legend": null}}},
 {"data": {"name": "labels"}, "transform": [{"filter": "datum.p === 'g'"}], "mark": {"type": "text", "align": "left", "baseline": "alphabetic", "font": "Liberation Serif", "fontSize": 58, "color": "black"}, "encoding": {"x": {"datum": -1.1, "type": "quantitative", "axis": {"values": [0,5,10,15,20,25], "title": null}}, "y": {"datum": 119.6, "type": "quantitative", "axis": {"values": [0,25,50,75,100,125], "labels": false, "title": null}}, "text": {"field": "letter"}}},
 {"data": {"name": "labels"}, "transform": [{"filter": "datum.p === 'g'"}], "mark": {"type": "text", "align": "right", "baseline": "alphabetic", "font": "Liberation Serif", "fontSize": 58, "color": "black"}, "encoding": {"x": {"datum": 26.2, "type": "quantitative", "axis": {"values": [0,5,10,15,20,25], "title": null}}, "y": {"datum": 122, "type": "quantitative", "axis": {"values": [0,25,50,75,100,125], "labels": false, "title": null}}, "text": {"field": "soc"}}}
]},
{"width": 472, "height": 776, "layer": [
 {"data": {"name": "bands"}, "transform": [{"filter": "datum.p === 'h'"}], "mark": {"type": "rect"}, "encoding": {"x": {"field": "x1", "type": "quantitative", "scale": {"domain": [-2.04, 27.0], "nice": false, "zero": false}, "axis": {"values": [0,5,10,15,20,25], "title": "Time Elapsed (minutes)", "titlePadding": 75, "titleX": 271}}, "x2": {"field": "x2"}, "color": {"field": "s", "type": "nominal", "scale": {"domain": ["Solvents", "THC", "Flaming Combustion"], "range": ["#1f77b4", "#ff7f0e", "#e3e3e3"]}}}},
 {"data": {"name": "curves"}, "transform": [{"filter": "datum.p === 'h'"}], "mark": {"type": "line", "strokeWidth": 5.5}, "encoding": {
   "x": {"field": "t", "type": "quantitative", "scale": {"domain": [-2.04, 27.0], "nice": false, "zero": false}, "axis": {"values": [0,5,10,15,20,25], "title": "Time Elapsed (minutes)", "titlePadding": 75, "titleX": 271}},
   "y": {"field": "v", "type": "quantitative", "scale": {"domain": [-6.3, 132.5], "nice": false, "zero": false}, "axis": {"values": [0,25,50,75,100,125], "labels": false, "title": null}},
   "color": {"field": "s", "type": "nominal", "scale": {"domain": ["Solvents", "THC", "Flaming Combustion"], "range": ["#1f77b4", "#ff7f0e", "#e3e3e3"]}},
   "strokeDash": {"field": "s", "type": "nominal", "scale": {"domain": ["Solvents", "THC"], "range": [[24, 10], [1, 0]]}, "legend": null}}},
 {"data": {"name": "labels"}, "transform": [{"filter": "datum.p === 'h'"}], "mark": {"type": "text", "align": "left", "baseline": "alphabetic", "font": "Liberation Serif", "fontSize": 58, "color": "black"}, "encoding": {"x": {"datum": -1.1, "type": "quantitative", "axis": {"values": [0,5,10,15,20,25], "title": "Time Elapsed (minutes)", "titlePadding": 75, "titleX": 271}}, "y": {"datum": 119.6, "type": "quantitative", "axis": {"values": [0,25,50,75,100,125], "labels": false, "title": null}}, "text": {"field": "letter"}}},
 {"data": {"name": "labels"}, "transform": [{"filter": "datum.p === 'h'"}], "mark": {"type": "text", "align": "right", "baseline": "alphabetic", "font": "Liberation Serif", "fontSize": 58, "color": "black"}, "encoding": {"x": {"datum": 26.2, "type": "quantitative", "axis": {"values": [0,5,10,15,20,25], "title": "Time Elapsed (minutes)", "titlePadding": 75, "titleX": 271}}, "y": {"datum": 122, "type": "quantitative", "axis": {"values": [0,25,50,75,100,125], "labels": false, "title": null}}, "text": {"field": "soc"}}}
]},
{"width": 472, "height": 776, "layer": [
 {"data": {"name": "bands"}, "transform": [{"filter": "datum.p === 'i'"}], "mark": {"type": "rect"}, "encoding": {"x": {"field": "x1", "type": "quantitative", "scale": {"domain": [-2.04, 27.0], "nice": false, "zero": false}, "axis": {"values": [0,5,10,15,20,25], "title": null}}, "x2": {"field": "x2"}, "color": {"field": "s", "type": "nominal", "scale": {"domain": ["Solvents", "THC", "Flaming Combustion"], "range": ["#1f77b4", "#ff7f0e", "#e3e3e3"]}}}},
 {"data": {"name": "curves"}, "transform": [{"filter": "datum.p === 'i'"}], "mark": {"type": "line", "strokeWidth": 5.5}, "encoding": {
   "x": {"field": "t", "type": "quantitative", "scale": {"domain": [-2.04, 27.0], "nice": false, "zero": false}, "axis": {"values": [0,5,10,15,20,25], "title": null}},
   "y": {"field": "v", "type": "quantitative", "scale": {"domain": [-6.3, 132.5], "nice": false, "zero": false}, "axis": {"values": [0,25,50,75,100,125], "labels": false, "title": null}},
   "color": {"field": "s", "type": "nominal", "scale": {"domain": ["Solvents", "THC", "Flaming Combustion"], "range": ["#1f77b4", "#ff7f0e", "#e3e3e3"]}},
   "strokeDash": {"field": "s", "type": "nominal", "scale": {"domain": ["Solvents", "THC"], "range": [[24, 10], [1, 0]]}, "legend": null}}},
 {"data": {"name": "labels"}, "transform": [{"filter": "datum.p === 'i'"}], "mark": {"type": "text", "align": "left", "baseline": "alphabetic", "font": "Liberation Serif", "fontSize": 58, "color": "black"}, "encoding": {"x": {"datum": -1.1, "type": "quantitative", "axis": {"values": [0,5,10,15,20,25], "title": null}}, "y": {"datum": 119.6, "type": "quantitative", "axis": {"values": [0,25,50,75,100,125], "labels": false, "title": null}}, "text": {"field": "letter"}}},
 {"data": {"name": "labels"}, "transform": [{"filter": "datum.p === 'i'"}], "mark": {"type": "text", "align": "right", "baseline": "alphabetic", "font": "Liberation Serif", "fontSize": 58, "color": "black"}, "encoding": {"x": {"datum": 26.2, "type": "quantitative", "axis": {"values": [0,5,10,15,20,25], "title": null}}, "y": {"datum": 122, "type": "quantitative", "axis": {"values": [0,25,50,75,100,125], "labels": false, "title": null}}, "text": {"field": "soc"}}}
]},
{"width": 472, "height": 776, "layer": [
 {"data": {"name": "bands"}, "transform": [{"filter": "datum.p === 'j'"}], "mark": {"type": "rect"}, "encoding": {"x": {"field": "x1", "type": "quantitative", "scale": {"domain": [-2.04, 27.0], "nice": false, "zero": false}, "axis": {"values": [0,5,10,15,20,25], "title": null}}, "x2": {"field": "x2"}, "color": {"field": "s", "type": "nominal", "scale": {"domain": ["Solvents", "THC", "Flaming Combustion"], "range": ["#1f77b4", "#ff7f0e", "#e3e3e3"]}}}},
 {"data": {"name": "curves"}, "transform": [{"filter": "datum.p === 'j'"}], "mark": {"type": "line", "strokeWidth": 5.5}, "encoding": {
   "x": {"field": "t", "type": "quantitative", "scale": {"domain": [-2.04, 27.0], "nice": false, "zero": false}, "axis": {"values": [0,5,10,15,20,25], "title": null}},
   "y": {"field": "v", "type": "quantitative", "scale": {"domain": [-6.3, 132.5], "nice": false, "zero": false}, "axis": {"values": [0,25,50,75,100,125], "labels": false, "title": null}},
   "color": {"field": "s", "type": "nominal", "scale": {"domain": ["Solvents", "THC", "Flaming Combustion"], "range": ["#1f77b4", "#ff7f0e", "#e3e3e3"]}},
   "strokeDash": {"field": "s", "type": "nominal", "scale": {"domain": ["Solvents", "THC"], "range": [[24, 10], [1, 0]]}, "legend": null}}},
 {"data": {"name": "labels"}, "transform": [{"filter": "datum.p === 'j'"}], "mark": {"type": "text", "align": "left", "baseline": "alphabetic", "font": "Liberation Serif", "fontSize": 58, "color": "black"}, "encoding": {"x": {"datum": -1.1, "type": "quantitative", "axis": {"values": [0,5,10,15,20,25], "title": null}}, "y": {"datum": 119.6, "type": "quantitative", "axis": {"values": [0,25,50,75,100,125], "labels": false, "title": null}}, "text": {"field": "letter"}}},
 {"data": {"name": "labels"}, "transform": [{"filter": "datum.p === 'j'"}], "mark": {"type": "text", "align": "right", "baseline": "alphabetic", "font": "Liberation Serif", "fontSize": 58, "color": "black"}, "encoding": {"x": {"datum": 26.2, "type": "quantitative", "axis": {"values": [0,5,10,15,20,25], "title": null}}, "y": {"datum": 122, "type": "quantitative", "axis": {"values": [0,25,50,75,100,125], "labels": false, "title": null}}, "text": {"field": "soc"}}}
]}
]}
],
"config": {
 "view": {"stroke": "#262626", "strokeWidth": 2.5},
 "axis": {"domain": false, "grid": false, "ticks": true, "tickSize": 13, "tickWidth": 2.5, "tickColor": "#262626", "labelFont": "Liberation Serif", "labelFontSize": 52, "labelColor": "black", "labelFlush": false, "titleFont": "Liberation Serif", "titleFontSize": 77, "titleFontWeight": "normal", "titleColor": "black"},
 "axisX": {"labelPadding": 8},
 "axisY": {"labelPadding": 14, "titlePadding": 22},
 "legend": {"orient": "none", "legendX": 1022, "legendY": -142, "direction": "horizontal", "labelFont": "Liberation Serif", "labelFontSize": 63, "labelColor": "black", "symbolSize": 15876, "symbolStrokeWidth": 5, "labelOffset": 50, "columnPadding": 48, "padding": 0, "labelLimit": 1000}
}
}
